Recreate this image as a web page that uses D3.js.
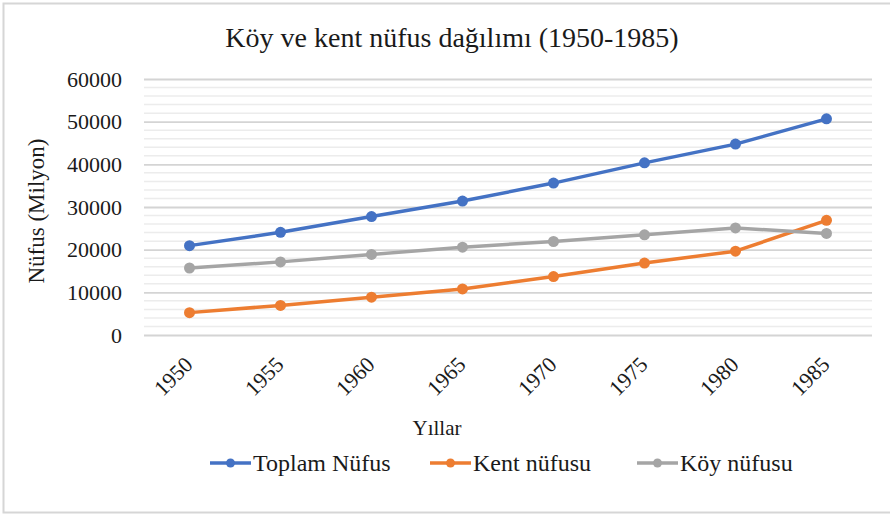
<!DOCTYPE html>
<html lang="tr">
<head>
  <meta charset="utf-8" />
  <title>Köy ve kent nüfus dağılımı</title>
  <script src="https://cdn.jsdelivr.net/npm/d3@7"></script>
  <style>
    body { margin: 0; background: #fff; }
    svg { display: block; }
    svg text { font-family: "Liberation Serif", "Times New Roman", "DejaVu Serif", serif; fill: #1a1a1a; }
  </style>
</head>
<body>
  <div id="chart"></div>
  <script>
    // veri
    const years = ["1950", "1955", "1960", "1965", "1970", "1975", "1980", "1985"];
    const toplam = [20947, 24065, 27755, 31391, 35605, 40348, 44737, 50664];
    const kent = [5244, 6927, 8860, 10806, 13691, 16869, 19645, 26866];
    const koy = [15703, 17138, 18895, 20585, 21914, 23479, 25092, 23798];
    const yTicks = [0, 10000, 20000, 30000, 40000, 50000, 60000];

    const series = [
      { name: "Toplam Nüfus", values: toplam, color: "#4472C4" },
      { name: "Kent nüfusu", values: kent, color: "#ED7D31" },
      { name: "Köy nüfusu", values: koy, color: "#A5A5A5" }
    ];

    const width = 890, height = 516;
    const marginLeft = 144, marginRight = 18, marginTop = 79, marginBottom = 181;

    const svg = d3.select("#chart").append("svg")
      .attr("width", width)
      .attr("height", height);

    // çerçeve
    svg.append("rect")
      .attr("x", 3.5).attr("y", 3.5)
      .attr("width", width + 10).attr("height", height - 7)
      .attr("fill", "#fff")
      .attr("stroke", "#d6d6d6")
      .attr("stroke-width", 2);

    const x = d3.scalePoint()
      .domain(years)
      .range([marginLeft, width - marginRight])
      .padding(0.5);

    const y = d3.scaleLinear()
      .domain([0, 60000])
      .range([height - marginBottom, marginTop]);

    // ara çizgiler (2000'de bir)
    svg.append("g")
      .selectAll("line")
      .data(d3.range(2000, 60000, 2000).filter(v => v % 10000 !== 0))
      .join("line")
      .attr("x1", marginLeft).attr("x2", width - marginRight)
      .attr("y1", d => y(d)).attr("y2", d => y(d))
      .attr("stroke", "#ececec")
      .attr("stroke-width", 1.5);

    // ana çizgiler + y etiketleri
    svg.append("g")
      .attr("transform", `translate(${marginLeft},0)`)
      .call(d3.axisLeft(y).tickValues(yTicks).tickSize(0).tickPadding(22).tickFormat(d3.format("d")))
      .call(g => g.select(".domain").remove())
      .call(g => g.selectAll(".tick line").clone()
        .attr("x2", width - marginLeft - marginRight)
        .attr("stroke", "#d4d4d4")
        .attr("stroke-width", 1.8))
      .call(g => g.selectAll(".tick text")
        .attr("font-size", 22)
        .attr("dy", "0.33em"));

    // x ekseni
    svg.append("g")
      .attr("transform", `translate(0,${height - marginBottom})`)
      .call(d3.axisBottom(x).tickSize(0))
      .call(g => g.select(".domain").remove())
      .call(g => g.selectAll(".tick text")
        .attr("font-size", 22)
        .attr("text-anchor", "end")
        .attr("y", 0)
        .attr("dy", 0)
        .attr("transform", "translate(4,31) rotate(-45)"));

    // başlık
    svg.append("text")
      .attr("x", 452).attr("y", 47)
      .attr("text-anchor", "middle")
      .attr("font-size", 28)
      .text("Köy ve kent nüfus dağılımı (1950-1985)");

    // eksen başlıkları
    svg.append("text")
      .attr("transform", `translate(44,${y(30000) + 4}) rotate(-90)`)
      .attr("text-anchor", "middle")
      .attr("font-size", 23)
      .text("Nüfus (Milyon)");

    svg.append("text")
      .attr("x", 437).attr("y", 435)
      .attr("text-anchor", "middle")
      .attr("font-size", 21)
      .text("Yıllar");

    // çizgiler
    const line = d3.line()
      .x((d, i) => x(years[i]))
      .y(d => y(d));

    const serie = svg.append("g")
      .selectAll("g")
      .data(series)
      .join("g");

    serie.append("path")
      .attr("fill", "none")
      .attr("stroke", d => d.color)
      .attr("stroke-width", 3.5)
      .attr("stroke-linejoin", "round")
      .attr("d", d => line(d.values));

    serie.selectAll("circle")
      .data(d => d.values.map((v, i) => ({ v, i, color: d.color })))
      .join("circle")
      .attr("cx", d => x(years[d.i]))
      .attr("cy", d => y(d.v))
      .attr("r", 5.5)
      .attr("fill", d => d.color);

    // lejant
    const legendX = [210, 430, 637];
    const legend = svg.append("g")
      .selectAll("g")
      .data(series)
      .join("g")
      .attr("transform", (d, i) => `translate(${legendX[i]},463)`);

    legend.append("line")
      .attr("x1", 0).attr("x2", 41)
      .attr("stroke", d => d.color)
      .attr("stroke-width", 3.5);

    legend.append("circle")
      .attr("cx", 20.5).attr("r", 4.5)
      .attr("fill", d => d.color);

    legend.append("text")
      .attr("x", 43)
      .attr("dy", "0.33em")
      .attr("font-size", 24)
      .text(d => d.name);
  </script>
</body>
</html>
